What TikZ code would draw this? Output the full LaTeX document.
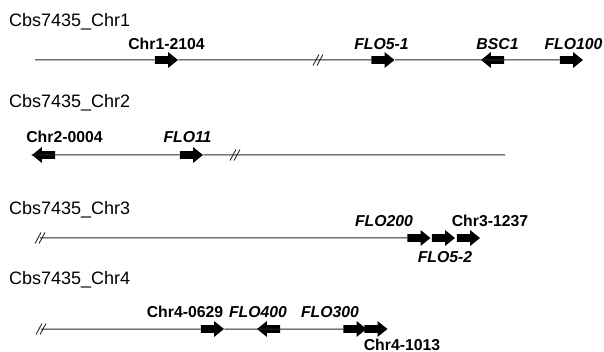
\documentclass[tikz,border=0pt]{standalone}
\usepackage{fontspec}
\setmainfont{Liberation Sans}
\usetikzlibrary{shapes.arrows}
\newcommand{\gsh}{\rule{0pt}{7.5pt}}
\tikzset{
  chrline/.style={draw=black!85, line width=1pt},
  title/.style={anchor=base west, inner sep=0pt, font=\fontsize{18}{20}\selectfont},
  glabel/.style={anchor=base, inner sep=0pt, font=\fontsize{15.8}{18}\selectfont\bfseries},
  ilabel/.style={glabel, font=\fontsize{15.8}{18}\selectfont\bfseries\itshape},
  gene/.style={single arrow, fill=black, draw=none, inner sep=0pt,
    minimum height=23pt, single arrow head extend=4pt,
    single arrow tip angle=78, single arrow head indent=0pt},
  fwd/.style={gene},
  rev/.style={gene, shape border rotate=180},
  brk/.pic={\draw[black!85, line width=0.9pt] (-6,5.5) -- (0,-5.5) (-2,5.5) -- (4,-5.5);}
}
\begin{document}
\begin{tikzpicture}[x=1pt, y=-1pt]
\useasboundingbox (0,0) rectangle (604,352);
% ---------- Chr1
\node[title] (t1) at (9,27) {Cbs7435\_Chr1};
\coordinate (c1s) at (35,60);
\node[fwd] (g11) at (164,60) {\gsh};
\node[fwd] (g12) at (380.5,60) {\gsh};
\node[rev] (g13) at (495,60) {\gsh};
\node[fwd] (g14) at (569,60) {\gsh};
\draw[chrline] (c1s) -- (g11.west) (g11.east) -- (g12.west) (g12.east) -- (g13.east) (g13.west) -- (g14.west);
\pic at (319,60) {brk};
\node[glabel] (l11) at (166.5,50) {Chr1-2104};
\node[ilabel] (l12) at (381.5,50) {FLO5-1};
\node[ilabel] (l13) at (497.5,50) {BSC1};
\node[ilabel] (l14) at (573.5,50) {FLO100};
% ---------- Chr2
\node[title] (t2) at (9,108) {Cbs7435\_Chr2};
\node[rev] (g21) at (46,155) {\gsh};
\node[fwd] (g22) at (189,155) {\gsh};
\coordinate (c2e) at (505,155);
\draw[chrline] (g21.west) -- (g22.west) (g22.east) -- (c2e);
\pic at (236,155) {brk};
\node[glabel] (l21) at (64.5,143) {Chr2-0004};
\node[ilabel] (l22) at (187.5,143) {FLO11};
% ---------- Chr3
\node[title] (t3) at (9,215) {Cbs7435\_Chr3};
\coordinate (c3s) at (40,238);
\node[fwd] (g31) at (416.5,238) {\gsh};
\node[fwd] (g32) at (441,238) {\gsh};
\node[fwd] (g33) at (466,238) {\gsh};
\draw[chrline] (c3s) -- (g31.west);
\pic at (41,238) {brk};
\node[ilabel] (l31) at (384,227) {FLO200};
\node[glabel] (l33) at (490,227) {Chr3-1237};
\node[ilabel] (l32) at (445,262) {FLO5-2};
% ---------- Chr4
\node[title] (t4) at (9,284) {Cbs7435\_Chr4};
\coordinate (c4s) at (41,329);
\node[fwd] (g41) at (210,329) {\gsh};
\node[rev] (g42) at (271,329) {\gsh};
\node[fwd] (g43) at (352.5,329) {\gsh};
\node[fwd] (g44) at (373.5,329) {\gsh};
\draw[chrline] (c4s) -- (g41.west) (g41.east) -- (g42.east) (g42.west) -- (g43.west);
\pic at (42,329) {brk};
\node[glabel] (l41) at (185,317) {Chr4-0629};
\node[ilabel] (l42) at (258,317) {FLO400};
\node[ilabel] (l43) at (330,317) {FLO300};
\node[glabel] (l44) at (402,350) {Chr4-1013};
\end{tikzpicture}
\end{document}
